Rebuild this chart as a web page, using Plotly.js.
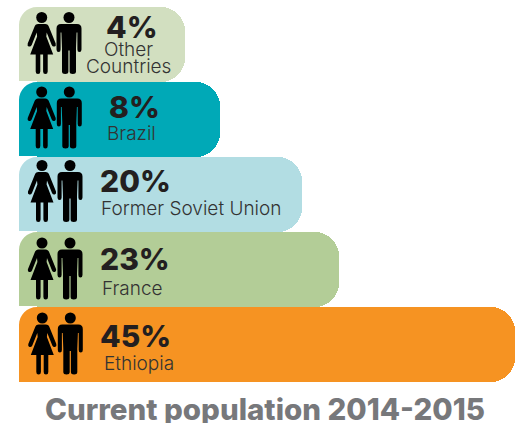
<!DOCTYPE html>
<html>
<head>
<meta charset="utf-8">
<script src="https://cdn.plot.ly/plotly-3.0.1.min.js"></script>
<style>html,body{margin:0;padding:0;background:#fff}#chart{width:515px;height:423px}</style>
</head>
<body>
<div id="chart"></div>
<script>
const categories = ["Other Countries", "Brazil", "Former Soviet Union", "France", "Ethiopia"];
const labelLines = [["Other", "Countries"], ["Brazil"], ["Former Soviet Union"], ["France"], ["Ethiopia"]];
const shares = [4, 8, 20, 23, 45];
// Bar lengths as drawn in the picture; they are not proportional to the printed shares
const barLengths = [166, 201, 283, 320, 496];
const colors = ["#d2dfc0", "#00a9b7", "#b2dde3", "#b3cd97", "#f69322"];
const chartTitle = "Current population 2014-2015";

const W = 515, H = 423, left = 19, top0 = 7, barH = 75;
const fx = x => x / W, fy = y => 1 - y / H;

// Icons, relative to the head centre
const womanBody = [["M",-3.5,6.5],["L",3.5,6.5],["Q",6.5,6.5,7.5,10],["L",14,26],["Q",14.6,28.5,12.8,29],["Q",11,29.5,10,27.5],["L",5,15],["L",4.6,19],["L",11.5,37],["L",6,37],["L",6,54],["Q",6,56.5,3.7,56.5],["Q",1.4,56.5,1.4,54],["L",1.4,37],["L",-1.4,37],["L",-1.4,54],["Q",-1.4,56.5,-3.7,56.5],["Q",-6,56.5,-6,54],["L",-6,37],["L",-11.5,37],["L",-4.6,19],["L",-5,15],["L",-10,27.5],["Q",-11,29.5,-12.8,29],["Q",-14.6,28.5,-14,26],["L",-7.5,10],["Q",-6.5,6.5,-3.5,6.5],["Z"]];
const manBody = [["M",-8,6.5],["L",8,6.5],["Q",12.5,6.5,12.5,11],["L",12.5,32],["Q",12.5,34.5,10.4,34.5],["Q",8.4,34.5,8.4,32],["L",8.4,15],["L",7.6,15],["L",7,31],["L",7,54],["Q",7,56.5,3.8,56.5],["Q",0.6,56.5,0.6,54],["L",0.6,33],["L",-0.6,33],["L",-0.6,54],["Q",-0.6,56.5,-3.8,56.5],["Q",-7,56.5,-7,54],["L",-7,31],["L",-7.6,15],["L",-8.4,15],["L",-8.4,32],["Q",-8.4,34.5,-10.4,34.5],["Q",-12.5,34.5,-12.5,32],["L",-12.5,11],["Q",-12.5,6.5,-8,6.5],["Z"]];
const toPath = (cmds, cx, cy) => cmds.map(c => {
  let s = c[0];
  for (let i = 1; i < c.length; i += 2) s += " " + fx(cx + c[i]).toFixed(5) + "," + fy(cy + c[i+1]).toFixed(5);
  return s;
}).join(" ");

// Icon anchor per bar: woman x, man x, head y
const womanX = [41.7, 41.7, 42, 42, 42.3];
const manX = [69, 69.3, 70, 70, 70.3];
const headY = [17.5, 92, 165.5, 243, 318];
const headR = 5.5;

const shapes = [];
categories.forEach((c, i) => {
  const y = top0 + i * barH, r = 18, k = r * 0.45;
  // rounded top-left corner of each bar
  shapes.push({type: "path", xref: "paper", yref: "paper", line: {width: 0}, fillcolor: "#ffffff",
    path: `M ${fx(left-1)},${fy(y+r)} L ${fx(left)},${fy(y+r)} C ${fx(left)},${fy(y+k)} ${fx(left+k)},${fy(y)} ${fx(left+r)},${fy(y)} L ${fx(left+r)},${fy(y-1)} L ${fx(left-1)},${fy(y-1)} Z`});
  [[womanX[i], womanBody], [manX[i], manBody]].forEach(([cx, body]) => {
    shapes.push({type: "path", xref: "paper", yref: "paper", line: {width: 0}, fillcolor: "#000000", path: toPath(body, cx, headY[i])});
    shapes.push({type: "circle", xref: "paper", yref: "paper", line: {width: 0}, fillcolor: "#000000",
      x0: fx(cx - headR), x1: fx(cx + headR), y0: fy(headY[i] - headR), y1: fy(headY[i] + headR)});
  });
});

const face = "Inter, 'DejaVu Sans', sans-serif";
const pctCx = [131.5, 134.5, 135.5, 135, 135.5];
const pctCy = [27, 107.5, 181, 259, 335.5];
const labelCx = [[128.5, 128.5], [131.5], [191], [132], [139]];
const labelCy = [[49, 66], [133], [209], [288], [363]];
const note = (text, cx, cy, size, weight, color) => ({
  text, x: fx(cx), y: fy(cy), xref: "paper", yref: "paper", xanchor: "center", yanchor: "middle",
  showarrow: false, font: {family: face, size, color, weight}, align: "center"
});
const annotations = [];
categories.forEach((c, i) => {
  annotations.push(note(shares[i] + "%", pctCx[i], pctCy[i], 30, 800, "#231f20"));
  labelLines[i].forEach((line, j) => annotations.push(note(line, labelCx[i][j], labelCy[i][j], 19, 300, "#333333")));
});

Plotly.newPlot("chart", [{
  type: "bar", orientation: "h", y: categories, x: barLengths,
  marker: {color: colors, line: {width: 0}, cornerradius: 24},
  hoverinfo: "skip", textposition: "none"
}], {
  width: W, height: H, margin: {l: 0, r: 0, t: 0, b: 0},
  paper_bgcolor: "#ffffff", plot_bgcolor: "#ffffff",
  bargap: 0, showlegend: false,
  title: {text: chartTitle, x: 265 / W, xanchor: "center", xref: "paper", y: fy(410), yref: "paper", yanchor: "middle", automargin: false,
    font: {family: face, size: 29.5, weight: 800, color: "#77787b"}},
  xaxis: {domain: [left / W, 1], range: [0, 496], visible: false, fixedrange: true},
  yaxis: {domain: [fy(top0 + 5 * barH), fy(top0)], autorange: "reversed", type: "category", visible: false, fixedrange: true},
  shapes, annotations
}, {displayModeBar: false, staticPlot: true});
</script>
</body>
</html>
